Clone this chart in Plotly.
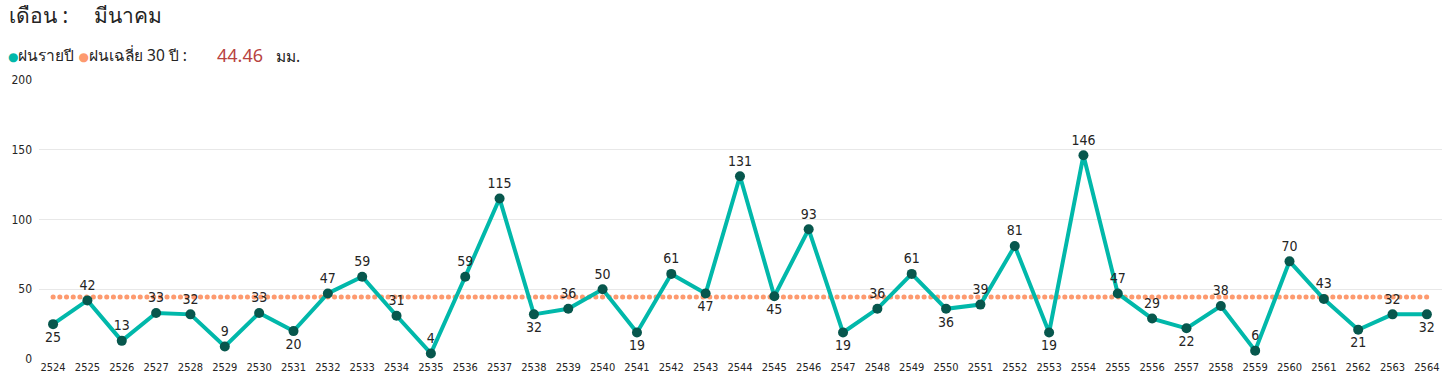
import plotly.graph_objects as go

years = list(range(2524, 2565))
rain = [25, 42, 13, 33, 32, 9, 33, 20, 47, 59, 31, 4, 59, 115, 32, 36, 50, 19, 61, 47,
        131, 45, 93, 19, 36, 61, 36, 39, 81, 19, 146, 47, 29, 22, 38, 6, 70, 43, 21, 32, 32]
mean_30 = 44.46
month_label = "มีนาคม"
y_ticks = [0, 50, 100, 150, 200]

# label placement per point (style)
below = {2524, 2531, 2538, 2541, 2543, 2545, 2547, 2550, 2553, 2557, 2562, 2564}
text_pos = ["bottom center" if y in below else "top center" for y in years]

NUMF = "DejaVu Sans Condensed, Roboto, sans-serif"
THAIF = "Noto Sans, DejaVu Sans, sans-serif"

W, H = 1446, 385
L, R, T, B = 39, 4, 80, 26
PW, PH = W - L - R, H - T - B


def px(x):
    return (x - L) / PW


def py(y):
    return 1 + (T - y) / PH


fig = go.Figure()
fig.add_trace(go.Scatter(
    x=[years[0], years[-1]], y=[mean_30, mean_30], mode="lines",
    line=dict(color="#FD9A6F", width=5, dash="0.1px,6.6px"),
    hoverinfo="skip", showlegend=False))
fig.add_trace(go.Scatter(
    x=years, y=rain, mode="lines+markers+text",
    line=dict(color="#01B8AA", width=4),
    marker=dict(color="#07574D", size=10),
    text=[str(v) for v in rain], textposition=text_pos,
    textfont=dict(family=NUMF, size=14, color="#252423"),
    showlegend=False))

fig.update_layout(
    width=W, height=H,
    margin=dict(l=L, r=R, t=T, b=B),
    paper_bgcolor="white", plot_bgcolor="white",
    xaxis=dict(range=[2523.59, 2564.44], tickvals=years, ticktext=[str(y) for y in years],
               showgrid=False, zeroline=False, showline=False,
               tickfont=dict(family=NUMF, size=11, color="#252423")),
    yaxis=dict(range=[0, 200], tickvals=y_ticks, showgrid=True, gridcolor="#E8E8E8",
               gridwidth=1, zeroline=False, showline=False,
               tickfont=dict(family=NUMF, size=12, color="#252423"), ticklabelstandoff=6),
    annotations=[
        dict(xref="paper", yref="paper", x=px(7), y=py(15), xanchor="left", yanchor="middle",
             text="เดือน :", showarrow=False, font=dict(family=THAIF, size=21, color="#252423")),
        dict(xref="paper", yref="paper", x=px(92), y=py(15), xanchor="left", yanchor="middle",
             text=month_label, showarrow=False, font=dict(family=THAIF, size=21, color="#252423")),
        dict(xref="paper", yref="paper", x=px(6), y=py(55), xanchor="left", yanchor="middle",
             text="<span style='color:#01B8AA;font-size:12px'>●</span>ฝนรายปี "
                  "<span style='color:#FD9A6F;font-size:12px'>●</span>ฝนเฉลี่ย 30 ปี :",
             showarrow=False, font=dict(family=THAIF, size=15.5, color="#252423")),
        dict(xref="paper", yref="paper", x=px(215), y=py(55), xanchor="left", yanchor="middle",
             text=f"{mean_30:.2f}", showarrow=False, font=dict(family=THAIF, size=18, color="#B8433F")),
        dict(xref="paper", yref="paper", x=px(274), y=py(56), xanchor="left", yanchor="middle",
             text="มม.", showarrow=False, font=dict(family=THAIF, size=15.5, color="#252423")),
    ],
)

post = """
document.body.style.margin = '0';
function rc(){
  var tr = document.querySelectorAll('.scatterlayer .trace');
  if (tr.length) { tr[0].querySelectorAll('path.js-line').forEach(function(p){ p.style.strokeLinecap = 'round'; }); }
}
rc();
var gd = document.getElementById('{plot_id}');
gd.on('plotly_afterplot', rc);
"""
fig.write_html("out.html", post_script=post, config={"displayModeBar": False})
